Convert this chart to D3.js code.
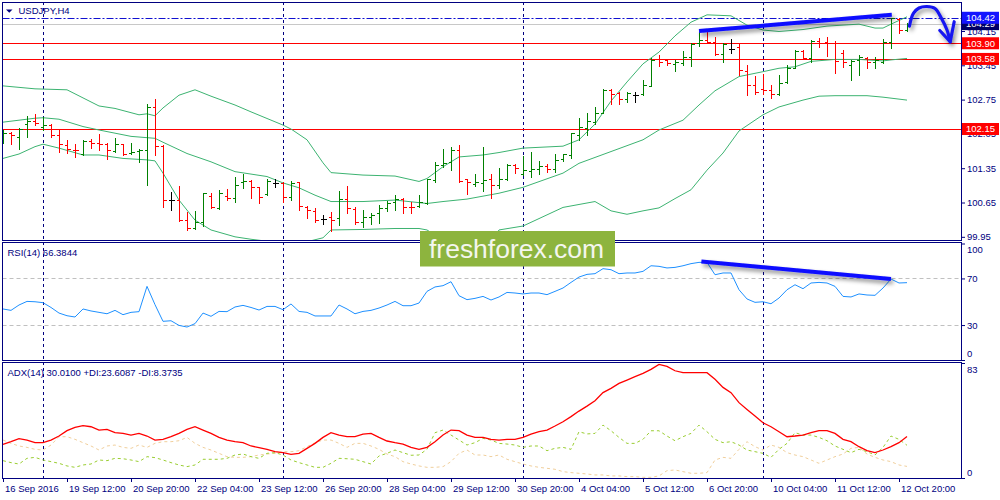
<!DOCTYPE html>
<html><head><meta charset="utf-8">
<script src="https://cdn.jsdelivr.net/npm/d3@7"></script>
<style>
html,body{margin:0;padding:0;background:#fff;}
svg{display:block;}
text{font-family:"Liberation Sans",Arial,sans-serif;}
</style></head><body>
<svg id="chart" width="1000" height="500"></svg>
<script>
// ---------- DATA ----------
const symbolTitle = "USDJPY,H4";
const opens = [102.03,102.06,101.99,102.26,102.32,102.19,102.24,102.03,101.82,101.73,
101.63,101.91,101.86,101.84,101.71,101.84,101.67,101.71,101.72,102.60,
101.81,100.70,100.70,100.29,100.12,100.25,100.78,100.53,100.78,100.75,
101.07,101.09,100.96,100.82,101.04,101.04,100.77,101.06,100.56,100.48,
100.31,100.36,100.33,100.72,100.52,100.26,100.36,100.43,100.53,100.67,
100.73,100.56,100.58,100.63,101.11,101.41,101.48,101.72,101.12,101.03,
101.05,101.14,101.01,101.12,101.41,101.24,101.30,101.33,101.40,101.33,
101.53,101.62,102.03,102.18,102.30,102.47,102.94,102.88,102.77,102.84,
102.86,103.03,103.57,103.56,103.48,103.49,103.61,103.90,103.96,103.93,
103.69,103.79,103.83,103.34,103.05,102.96,102.94,102.86,103.11,103.39,
103.75,103.59,103.95,103.93,103.91,103.71,103.45,103.56,103.59,103.52,
103.52,103.93,104.40,104.18];
const highs = [102.13,102.08,102.18,102.41,102.45,102.40,102.25,102.13,101.92,101.84,
101.92,101.94,102.05,101.86,101.96,101.84,101.86,101.74,102.66,102.77,
101.82,100.87,100.99,100.46,100.48,100.84,100.85,100.90,100.92,101.18,
101.24,101.11,100.97,101.12,101.14,101.06,101.08,101.06,100.58,100.53,
100.39,100.46,100.88,100.99,100.55,100.50,100.44,100.60,100.68,100.80,
100.75,100.67,100.80,101.14,101.48,101.74,101.79,101.82,101.14,101.23,
101.79,101.24,101.35,101.43,101.43,101.60,101.69,101.49,101.43,101.65,
101.64,102.07,102.38,102.47,102.59,102.96,102.96,102.91,102.91,102.91,
103.16,103.59,103.66,103.57,103.56,103.75,103.90,104.13,104.13,104.02,
103.90,103.98,103.90,103.45,103.23,103.27,103.05,103.25,103.45,103.76,
103.77,103.96,104.00,104.03,103.95,103.76,103.56,103.66,103.62,103.62,
103.98,104.42,104.42,104.31];
const lows = [101.87,101.84,101.74,101.98,102.23,102.13,101.98,101.69,101.67,101.57,
101.62,101.77,101.72,101.53,101.69,101.62,101.65,101.48,101.01,101.62,
100.56,100.50,100.28,100.09,100.10,100.17,100.53,100.51,100.70,100.67,
100.94,100.75,100.65,100.80,100.96,100.67,100.70,100.50,100.33,100.26,
100.22,100.07,100.19,100.43,100.22,100.16,100.22,100.24,100.48,100.50,
100.43,100.43,100.55,100.62,101.07,101.38,101.31,101.07,100.82,100.99,
100.89,100.74,100.94,101.11,101.26,101.21,101.18,101.23,101.28,101.28,
101.50,101.55,101.92,102.03,102.26,102.47,102.66,102.66,102.71,102.71,
102.84,103.03,103.43,103.46,103.34,103.46,103.43,103.84,103.90,103.66,
103.52,103.71,103.25,102.84,102.86,102.86,102.79,102.84,103.09,103.39,
103.57,103.52,103.83,103.64,103.30,103.42,103.15,103.25,103.39,103.40,
103.50,103.80,104.11,104.14];
const closes = [102.07,102.03,102.16,102.32,102.28,102.24,102.03,101.84,101.75,101.72,
101.91,101.86,101.84,101.73,101.84,101.65,101.69,101.72,102.60,101.81,
100.70,100.70,100.29,100.12,100.25,100.84,100.55,100.84,100.74,101.00,
101.09,100.96,100.77,101.09,101.04,100.77,101.04,100.58,100.50,100.29,
100.31,100.29,100.72,100.53,100.26,100.36,100.39,100.53,100.65,100.73,
100.56,100.55,100.67,101.12,101.41,101.45,101.72,101.09,101.06,101.07,
101.11,101.01,101.12,101.41,101.35,101.31,101.33,101.40,101.33,101.52,
101.63,102.06,102.20,102.32,102.47,102.94,102.86,102.77,102.88,102.84,
103.05,103.56,103.52,103.49,103.52,103.61,103.88,103.96,103.93,103.69,
103.88,103.79,103.35,103.05,102.91,102.94,102.86,103.09,103.39,103.75,
103.59,103.95,103.91,103.90,103.54,103.52,103.54,103.61,103.52,103.56,
103.93,104.41,104.18,104.29];

// Bollinger Bands (at sample bars)
const bbUpperIdx = [0,4,8,12,14,17,18,19,20,22,24,26,29,31,35,36,38,40,41,45,49,52,53,55,57,60,62,65,70,72,74,76,78,80,82,84,86,88,91,93,95,97,100,103,107,109,110,111,113];
const bbUpper = [103.03,102.97,102.95,102.62,102.57,102.44,102.46,102.42,102.58,102.84,102.95,102.82,102.64,102.50,102.23,102.15,101.93,101.46,101.26,101.21,101.19,101.08,101.14,101.38,101.58,101.62,101.67,101.76,101.80,101.93,102.25,102.72,103.11,103.48,103.72,104.05,104.33,104.48,104.46,104.27,104.17,104.14,104.18,104.25,104.29,104.21,104.21,104.29,104.44];
const bbMidIdx = [0,2,4,5,7,10,12,16,19,20,23,26,29,31,33,35,37,39,41,45,49,53,55,58,62,65,70,72,76,80,82,85,87,89,92,95,97,99,101,104,107,110,111,113];
const bbMid = [102.29,102.33,102.37,102.38,102.35,102.20,102.13,102.00,101.96,101.88,101.65,101.48,101.28,101.23,101.18,101.05,100.95,100.80,100.67,100.67,100.70,100.63,100.67,100.72,100.84,100.96,101.25,101.45,101.69,101.93,102.13,102.33,102.64,102.93,103.22,103.32,103.39,103.42,103.53,103.57,103.57,103.54,103.56,103.59];
const bbLowerIdx = [0,2,4,5,7,10,12,15,18,19,20,22,24,26,29,31,32,34,36,38,40,41,45,49,52,53,55,57,59,61,62,65,70,74,76,78,80,82,84,86,88,90,92,95,97,100,102,104,108,110,113];
const bbLower = [101.55,101.64,101.79,101.84,101.76,101.62,101.62,101.55,101.52,101.50,101.25,100.70,100.29,100.09,99.95,99.90,99.88,99.84,99.82,99.85,99.93,100.09,100.10,100.12,100.12,100.09,99.88,99.82,99.80,99.84,100.09,100.17,100.55,100.67,100.48,100.41,100.48,100.54,100.73,100.91,101.31,101.66,102.11,102.44,102.60,102.74,102.82,102.83,102.83,102.80,102.74];

const rsiValues = [43.8,42.6,47.2,50.3,50.0,49.2,45.1,40.3,38.0,36.9,
43.8,42.1,40.9,39.7,42.6,38.9,40.9,41.5,63.2,47.5,
33.2,33.7,29.7,28.3,31.2,40.3,37.5,41.7,41.5,45.5,
46.9,45.1,42.9,46.0,46.0,43.2,48.1,41.7,40.9,37.8,
37.8,37.8,47.2,43.8,39.7,41.7,42.6,44.6,47.2,50.3,
46.6,46.6,48.9,58.9,62.7,63.8,67.2,55.2,51.8,52.9,
54.6,51.5,54.1,58.0,57.5,56.7,57.5,57.5,56.1,58.9,
61.8,66.6,71.2,73.5,74.1,78.4,77.5,74.1,74.7,74.7,
76.1,80.9,80.4,79.0,79.5,80.9,82.7,83.8,83.8,73.2,
74.7,74.7,60.3,52.4,49.5,50.0,48.3,53.2,60.3,64.6,
61.2,66.1,66.6,66.1,63.2,54.6,54.1,56.7,55.8,55.5,
61.8,69.5,66.1,66.38];
const adxValues = [24.3,26.2,28.4,27.4,25.5,25.5,27.4,30.3,34.2,36.6,
37.8,37.0,34.6,35.1,32.7,32.2,31.0,32.2,30.3,27.4,
27.9,29.8,32.2,35.1,37.0,34.6,32.2,29.3,27.4,26.2,
25.5,23.1,21.9,20.7,19.0,18.3,17.1,17.8,21.4,25.0,
29.3,32.7,31.0,29.8,29.8,31.7,32.2,29.3,26.7,25.5,
24.5,22.1,20.7,22.1,26.2,31.0,34.6,34.2,31.0,29.3,
29.3,27.9,27.4,27.9,27.9,29.3,31.7,33.4,34.6,37.5,
40.6,44.3,48.3,51.9,55.8,61.6,64.7,68.3,70.7,73.1,
75.5,78.4,82.0,80.5,77.4,76.0,76.0,76.0,76.0,71.2,
65.4,61.6,54.4,49.5,44.7,39.9,37.0,33.4,29.8,30.3,
31.0,32.7,34.2,34.2,32.2,27.9,26.2,22.6,19.7,18.3,
20.2,22.6,25.5,30.01];
const plusDI = [12.5,11.1,10.1,14.2,14.9,13.0,11.8,10.6,8.7,7.7,
9.4,10.1,13.0,12.5,14.2,13.9,13.0,11.8,15.4,14.7,
13.0,11.1,9.4,8.2,9.4,13.5,13.5,13.5,14.2,16.6,
17.3,15.4,14.2,17.8,18.3,16.6,13.0,11.1,9.4,7.7,
7.7,10.6,14.2,13.9,13.5,11.8,10.1,15.9,17.8,20.2,
18.3,16.4,16.6,20.7,32.7,34.6,31.0,27.4,23.8,25.5,
28.6,27.4,25.0,24.5,23.8,22.1,23.1,23.1,19.7,21.4,
22.1,20.7,33.4,31.8,32.2,38.2,34.1,29.3,25.0,25.0,
27.9,34.1,34.1,30.3,26.9,29.8,32.2,38.2,33.4,27.9,
25.5,26.2,23.8,20.2,19.0,17.8,14.9,20.7,25.0,32.7,
31.0,31.0,29.3,26.9,23.1,20.7,18.3,20.7,19.0,16.6,
22.1,30.3,27.9,23.61];
const minusDI = [27.4,25.0,23.1,22.1,20.7,20.2,23.8,29.8,29.8,27.9,
25.5,23.1,20.2,23.1,23.8,22.1,21.4,23.8,22.1,25.0,
26.2,26.2,26.9,29.3,25.0,22.1,20.2,17.8,15.4,14.9,
14.9,15.4,16.6,17.3,17.8,19.0,19.0,19.7,22.6,25.5,
27.4,27.4,25.0,22.1,25.0,25.0,23.1,20.7,17.3,15.4,
11.8,10.1,8.7,7.7,7.7,8.2,11.8,17.8,20.2,16.6,
16.6,15.4,16.6,13.5,11.8,10.1,8.7,7.7,7.0,6.3,
4.6,3.9,3.4,2.9,2.2,2.2,1.5,1.5,1.0,1.0,
0.5,0.5,1.5,5.3,5.8,4.6,3.4,3.4,3.9,13.0,
14.9,14.2,20.7,26.2,22.6,20.2,23.8,22.1,18.3,16.6,
15.4,13.0,10.6,13.0,15.4,17.3,21.4,22.1,17.3,14.9,
13.0,11.8,9.4,8.37];

const priceTicks = [104.15,103.45,102.75,102.05,101.35,100.65,99.95];
const rsiTicks = [100,70,30,0];
const rsiLevels = [70,30];
const adxTicks = [83,0];
const levelPrices = [104.29,104.42,103.90,103.58,102.15];
const levelKinds  = ["bid","high","support","support","support"];
const separatorIdx = [5,35,65,95];
const timeIdx = [0,8,16,24,32,40,48,56,64,72,80,88,96,104,112];
const timeLabels = ["16 Sep 2016","19 Sep 12:00","20 Sep 20:00","22 Sep 04:00","23 Sep 12:00","26 Sep 20:00","28 Sep 04:00","29 Sep 12:00","30 Sep 20:00","4 Oct 04:00","5 Oct 12:00","6 Oct 20:00","10 Oct 04:00","11 Oct 12:00","12 Oct 20:00"];
const trendMain = [[87,104.15],[111.1,104.48]];
const trendRsi = [[87.3,84.6],[111,69.5]];
const arrowCurve = [[113.3,104.25],[113.8,104.51],[114.5,104.62],[115.5,104.65],[116.5,104.61],[117.3,104.41],[118.0,104.17],[118.4,103.93]];
const arrowHead = [[117.1,104.16],[118.4,103.93],[118.9,104.34]];
const rsiLabel = "RSI(14) 66.3844";
const adxLabel = "ADX(14) 30.0100 +DI:23.6087 -DI:8.3735";
const watermark = "freshforex.com";

// ---------- LAYOUT ----------
const NAVY = "#000080";
const L = 2.5, R = 961;
const mainP = {top:2.5, bottom:240};
const rsiP = {top:242.5, bottom:360};
const adxP = {top:362.5, bottom:478};

const svg = d3.select("#chart");
const defs = svg.append("defs");
[["clipMain",mainP],["clipRsi",rsiP],["clipAdx",adxP]].forEach(([id,p])=>{
  defs.append("clipPath").attr("id",id).append("rect")
    .attr("x",L).attr("y",p.top).attr("width",R-L).attr("height",p.bottom-p.top);
});
const f = defs.append("filter").attr("id","sh").attr("x","-20%").attr("y","-60%").attr("width","140%").attr("height","320%");
f.append("feDropShadow").attr("dx",2).attr("dy",3).attr("stdDeviation",2).attr("flood-color","#000").attr("flood-opacity",0.45);

const x = d3.scaleLinear().domain([0,119.75]).range([3,961]);
const yP = d3.scaleLinear().domain([99.885,104.742]).range([240,2]);
const yR = d3.scaleLinear().domain([0,100]).range([360,243.5]);
const yA = d3.scaleLinear().domain([0,83]).range([478,363]);
const px = v => Math.round(v)+0.5;

// separators
svg.append("g").selectAll("line").data(separatorIdx).join("line")
  .attr("x1",d=>px(x(d))).attr("x2",d=>px(x(d))).attr("y1",2).attr("y2",478)
  .attr("stroke",NAVY).attr("stroke-dasharray","3,3").attr("stroke-width",1);

// ---------- MAIN PANEL ----------
const gm = svg.append("g").attr("clip-path","url(#clipMain)");
gm.selectAll("line.lvl").data(levelPrices).join("line").attr("class","lvl")
  .attr("x1",L).attr("x2",R).attr("y1",d=>px(yP(d))).attr("y2",d=>px(yP(d)))
  .attr("stroke",(d,i)=>levelKinds[i]==="bid"?"#c8c8c8":levelKinds[i]==="high"?"#1010d0":"#ff0000")
  .attr("stroke-dasharray",(d,i)=>levelKinds[i]==="high"?"7,2,2,2":null)
  .attr("stroke-width",1);

const bbLine = d3.line().x(d=>x(d[0])).y(d=>yP(d[1]));
[[bbUpperIdx,bbUpper],[bbMidIdx,bbMid],[bbLowerIdx,bbLower]].forEach(([idx,vals])=>{
  gm.append("path").attr("d",bbLine(d3.zip(idx,vals)))
    .attr("fill","none").attr("stroke","#3cb371").attr("stroke-width",1);
});

const bars = d3.range(opens.length).map(i=>({i,o:opens[i],h:highs[i],l:lows[i],c:closes[i]}));
gm.append("g").attr("shape-rendering","crispEdges").selectAll("path").data(bars).join("path")
  .attr("d",d=>{
    const xx = px(x(d.i));
    return `M${xx},${Math.round(yP(d.h))}V${Math.round(yP(d.l))+1}`+
           `M${xx-3},${px(yP(d.o))}H${xx}`+
           `M${xx},${px(yP(d.c))}H${xx+3}`;
  })
  .attr("fill","none").attr("stroke-width",1)
  .attr("stroke",d=>d.c>d.o?"#008000":d.c<d.o?"#ff0000":"#000000");

// ---------- RSI PANEL ----------
const gr = svg.append("g").attr("clip-path","url(#clipRsi)");
gr.selectAll("line").data(rsiLevels).join("line")
  .attr("x1",L).attr("x2",R).attr("y1",d=>px(yR(d))).attr("y2",d=>px(yR(d)))
  .attr("stroke","#c0c0c0").attr("stroke-dasharray","4,3");
gr.append("path").attr("d",d3.line().x((d,i)=>x(i)).y(d=>yR(d))(rsiValues))
  .attr("fill","none").attr("stroke","#1e90ff").attr("stroke-width",1);

// ---------- ADX PANEL ----------
const ga = svg.append("g").attr("clip-path","url(#clipAdx)");
const adxLine = d3.line().x((d,i)=>x(i)).y(d=>yA(d));
ga.append("path").attr("d",adxLine(minusDI)).attr("fill","none").attr("stroke","#f0cf9c").attr("stroke-width",1).attr("stroke-dasharray","3,3");
ga.append("path").attr("d",adxLine(plusDI)).attr("fill","none").attr("stroke","#9acd32").attr("stroke-width",1).attr("stroke-dasharray","3,3");
ga.append("path").attr("d",adxLine(adxValues)).attr("fill","none").attr("stroke","#ff0000").attr("stroke-width",1.3);

// ---------- ANNOTATIONS ----------
const annP = d3.line().x(d=>x(d[0])).y(d=>yP(d[1]));
svg.append("path").attr("d",annP(trendMain)).attr("stroke","#0a0aff").attr("stroke-width",4).attr("fill","none").attr("filter","url(#sh)");
svg.append("path").attr("d",d3.line().x(d=>x(d[0])).y(d=>yR(d[1]))(trendRsi)).attr("stroke","#0a0aff").attr("stroke-width",4).attr("fill","none").attr("filter","url(#sh)");
const arrowG = svg.append("g").attr("filter","url(#sh)");
arrowG.append("path").attr("d",annP.curve(d3.curveCatmullRom)(arrowCurve)).attr("stroke","#1515f0").attr("stroke-width",3.2).attr("fill","none").attr("stroke-linecap","round");
arrowG.append("path").attr("d",d3.line().x(d=>x(d[0])).y(d=>yP(d[1]))(arrowHead)).attr("stroke","#1515f0").attr("stroke-width",3.2).attr("fill","none").attr("stroke-linecap","round").attr("stroke-linejoin","round");

// ---------- FRAMES ----------
const fr = svg.append("g").attr("fill","none").attr("stroke",NAVY).attr("stroke-width",1).attr("shape-rendering","crispEdges");
[mainP,rsiP,adxP].forEach(p=>{
  fr.append("rect").attr("x",L).attr("y",p.top).attr("width",R-L).attr("height",p.bottom-p.top);
});

// ---------- AXES ----------
function styleAxis(g){
  g.select(".domain").remove();
  g.selectAll("line").attr("stroke",NAVY);
  g.selectAll("text").attr("fill",NAVY).attr("font-size","9.5px").attr("font-family","'Liberation Sans',Arial,sans-serif");
}
svg.append("g").attr("transform",`translate(${R},0)`)
  .call(d3.axisRight(yP).tickValues(priceTicks).tickSize(4).tickPadding(2).tickFormat(d3.format(".2f")))
  .call(styleAxis);
const rAx = svg.append("g").attr("transform",`translate(${R},0)`)
  .call(d3.axisRight(yR).tickValues(rsiTicks).tickSize(4).tickPadding(2).tickFormat(d3.format("d")))
  .call(styleAxis);
rAx.selectAll(".tick text").attr("y",d=>d===100?6:d===0?-7:0);
const aAx = svg.append("g").attr("transform",`translate(${R},0)`)
  .call(d3.axisRight(yA).tickValues(adxTicks).tickSize(4).tickPadding(2).tickFormat(d3.format("d")))
  .call(styleAxis);
aAx.selectAll(".tick text").attr("y",d=>d===83?6:-5.5);

const tAx = svg.append("g").attr("transform",`translate(0,${adxP.bottom})`)
  .call(d3.axisBottom(x).tickValues(timeIdx).tickSize(4).tickPadding(3).tickFormat((d,i)=>timeLabels[i]))
  .call(styleAxis);
tAx.selectAll(".tick text").attr("text-anchor","start").attr("x",1.5);
tAx.append("line").attr("x1",L).attr("x2",R).attr("y1",0.5).attr("y2",0.5).attr("stroke",NAVY);

// price level boxes
const boxColor = k => k==="bid"?"#000066":k==="high"?"#1414ff":"#ff0000";
const lb = svg.append("g");
levelPrices.forEach((p,i)=>{
  const yy = yP(p);
  lb.append("rect").attr("x",R+1).attr("y",yy-6).attr("width",37).attr("height",12).attr("fill",boxColor(levelKinds[i]));
  lb.append("text").attr("x",R+5).attr("y",yy).attr("dy","0.35em").attr("fill","#fff")
    .attr("font-size","9.5px").text(d3.format(".2f")(p));
});

// ---------- TITLES ----------
svg.append("path").attr("d","M6,9.5H12.5L9.25,12.8Z").attr("fill",NAVY);
svg.append("text").attr("x",18.5).attr("y",13.5).attr("fill",NAVY).attr("font-size","9.5px").text(symbolTitle);
svg.append("text").attr("x",7.5).attr("y",255.5).attr("fill",NAVY).attr("font-size","9.5px").text(rsiLabel);
svg.append("text").attr("x",7.5).attr("y",375.5).attr("fill",NAVY).attr("font-size","9.5px").text(adxLabel);

// ---------- WATERMARK ----------
svg.append("rect").attr("x",420).attr("y",231).attr("width",195).attr("height",35.5).attr("fill","#8db43e");
svg.append("text").attr("x",429).attr("y",258).attr("fill","#f4f6ee")
  .attr("font-family","'Open Sans','Noto Sans',sans-serif").attr("font-size","26px")
  .attr("textLength",175).attr("lengthAdjust","spacingAndGlyphs").text(watermark);
</script>
</body></html>
